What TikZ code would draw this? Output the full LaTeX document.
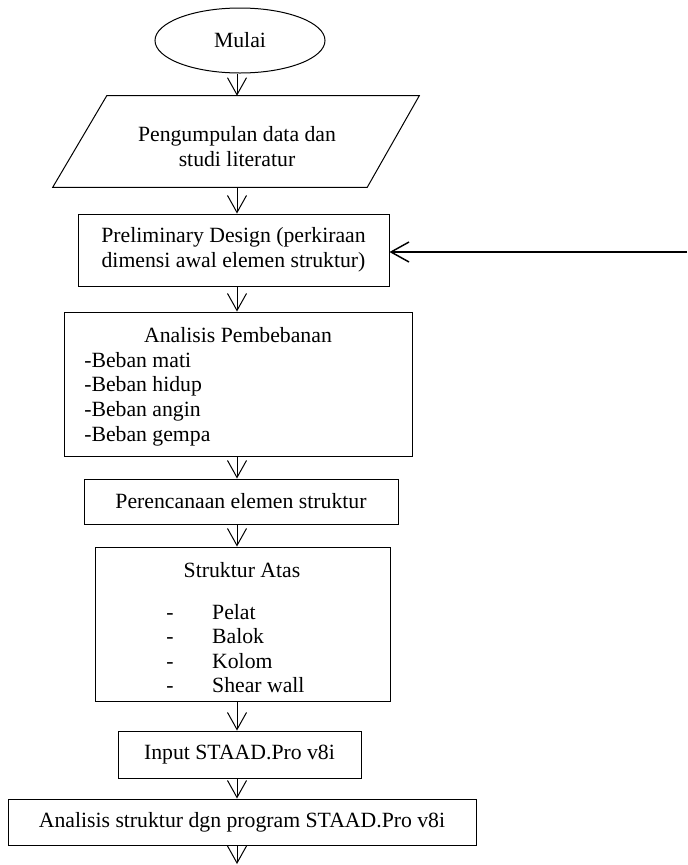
\documentclass[tikz,border=0pt]{standalone}
\usepackage{fontspec}
\setmainfont{Liberation Serif}
\usetikzlibrary{arrows.meta,shapes.geometric}
\begin{document}
\begin{tikzpicture}[x=0.75pt,y=-0.75pt,
  every node/.style={font=\fontsize{16.3}{18.4}\selectfont},
  box/.style={draw, line width=0.75pt, rectangle, inner sep=0pt, align=center},
  term/.style={draw, line width=0.75pt, ellipse, inner sep=0pt,
    minimum width=127.5pt, minimum height=48.75pt},
  txt/.style={inner sep=0pt, align=center},
  flow/.style={line width=0.75pt, -{Straight Barb[length=12.75pt,width=14.25pt]}},
  back/.style={line width=1.1pt, -{Straight Barb[length=13.5pt,width=15pt]}}]
\useasboundingbox (0,0) rectangle (687,865);

% start terminal
\node[term] (start) at (240,40.5) {Mulai};

% data input (parallelogram)
\node[inner sep=0pt, minimum width=274.5pt, minimum height=68.25pt] (data) at (236,141.5) {};
\draw[line width=0.75pt] ([xshift=40.5pt]data.north west) -- (data.north east)
  -- ([xshift=-39pt]data.south east) -- (data.south west) -- cycle;
\node[txt] (datatext) at (237,146.5) {Pengumpulan data dan\\studi literatur};

% preliminary design
\node[box, minimum width=233.25pt, minimum height=54pt] (prelim) at (233.5,250)
  {Preliminary Design (perkiraan\\dimensi awal elemen struktur)};

% loading analysis
\node[box, minimum width=261pt, minimum height=108pt] (loads) at (238,384) {};
\node[txt] (loadstitle) at (238,335) {Analisis Pembebanan};
\node[txt, align=left, anchor=west] (loadlist) at (84,399)
  {-Beban mati\\-Beban hidup\\-Beban angin\\-Beban gempa};

% element design
\node[box, minimum width=235.5pt, minimum height=33.75pt] (plan) at (241,501.5)
  {Perencanaan elemen struktur};

% upper structure
\node[box, minimum width=221.25pt, minimum height=115.5pt] (upper) at (242.5,624) {};
\node[txt] (uppertitle) at (242,570) {Struktur Atas};
\node[txt, anchor=west] (upperlist) at (166,651)
  {\begin{tabular}{@{}l@{\hspace{29pt}}l@{}}
   - & Pelat\\
   - & Balok\\
   - & Kolom\\
   - & Shear wall
   \end{tabular}};

% STAAD input and analysis
\node[box, minimum width=182.25pt, minimum height=35.25pt] (input) at (239.5,754.5)
  {Input STAAD.Pro v8i};
\node[box, minimum width=351pt, minimum height=34.5pt] (staad) at (242,822)
  {Analisis struktur dgn program STAAD.Pro v8i};

% helper coordinates
\coordinate (spine) at (237,0);
\coordinate (end) at (237,864);
\coordinate (fb) at (687,252);

% connectors
\draw[flow] (spine |- start.south) -- (spine |- data.north);
\draw[flow] (spine |- data.south) -- (spine |- prelim.north);
\draw[flow] (spine |- prelim.south) -- (spine |- loads.north);
\draw[flow] (spine |- loads.south) -- (spine |- plan.north);
\draw[flow] (spine |- plan.south) -- (spine |- upper.north);
\draw[flow] (spine |- upper.south) -- (spine |- input.north);
\draw[flow] (spine |- input.south) -- (spine |- staad.north);
\draw[flow] (spine |- staad.south) -- (end);
\draw[back] (fb) -- (fb -| prelim.east);
\end{tikzpicture}
\end{document}
